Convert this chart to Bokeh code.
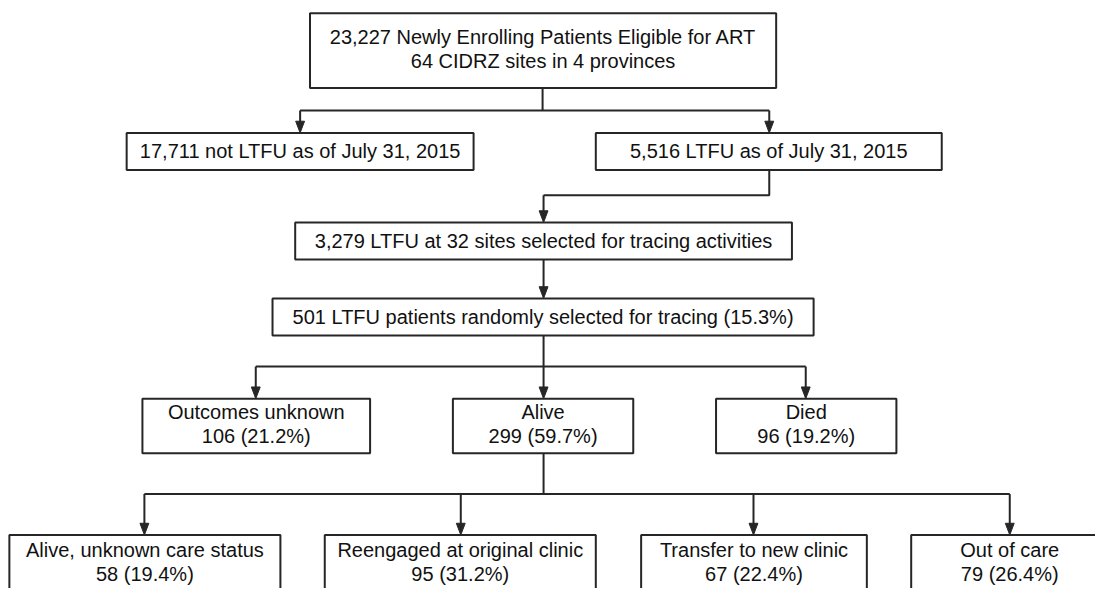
from bokeh.plotting import figure
from bokeh.models import Range1d, ColumnDataSource
from bokeh.core.properties import value
from bokeh.embed import file_html
from bokeh.resources import INLINE

# ---- data (from the flowchart) ----
counts = [23227, 17711, 5516, 3279, 501, 106, 299, 96, 58, 95, 67, 79]
pcts = [None, None, None, None, 15.3, 21.2, 59.7, 19.2, 19.4, 31.2, 22.4, 26.4]
titles = [
    "Newly Enrolling Patients Eligible for ART",
    "not LTFU as of July 31, 2015",
    "LTFU as of July 31, 2015",
    "LTFU at 32 sites selected for tracing activities",
    "LTFU patients randomly selected for tracing",
    "Outcomes unknown",
    "Alive",
    "Died",
    "Alive, unknown care status",
    "Reengaged at original clinic",
    "Transfer to new clinic",
    "Out of care",
]
subtitle_top = "64 CIDRZ sites in 4 provinces"

def fmt(n):
    return f"{n:,}"

node_lines = [
    [f"{fmt(counts[0])} {titles[0]}", subtitle_top],
    [f"{fmt(counts[1])} {titles[1]}"],
    [f"{fmt(counts[2])} {titles[2]}"],
    [f"{fmt(counts[3])} {titles[3]}"],
    [f"{counts[4]} {titles[4]} ({pcts[4]}%)"],
] + [[titles[i], f"{counts[i]} ({pcts[i]}%)"] for i in range(5, 12)]

# ---- layout (reference-pixel boxes: x0, x1, y0, y1) ----
boxes = [
    (314, 787, 13, 90),
    (128, 480, 136, 174),
    (604, 955, 136, 174),
    (299, 803, 228, 266),
    (276, 825, 306, 344),
    (144, 375, 409, 465),
    (459, 642, 409, 465),
    (726, 909, 409, 465),
    (9, 284, 549, 625),
    (329, 604, 549, 625),
    (650, 879, 549, 625),
    (924, 1124, 549, 625),
]
line_y = {0: [38, 62], 5: [423, 447], 6: [423, 447], 7: [423, 447],
          8: [564, 589], 9: [564, 589], 10: [564, 589], 11: [564, 589]}

# connectors (polylines) and arrow tips
segs = [
    ([550, 550], [90, 113]),
    ([304, 780], [113, 113]),
    ([780, 780, 551], [174, 200, 200]),
    ([551, 551], [344, 376]),
    ([259, 817], [376, 376]),
    ([551, 551], [465, 507]),
    ([146, 1024], [507, 507]),
]
arrows = [  # (x, y_start, y_tip)
    (304, 113, 136), (780, 113, 136),
    (551, 200, 228), (551, 266, 306),
    (259, 376, 409), (551, 376, 409), (817, 376, 409),
    (146, 507, 549), (467, 507, 549), (764, 507, 549), (1024, 507, 549),
]

LINE = "#262626"
TEXT = "#111111"
FONT = "Liberation Sans"

p = figure(width=1095, height=588, output_backend="svg", toolbar_location=None,
           x_range=Range1d(0, 1111), y_range=Range1d(604, 0),
           min_border=0)
p.axis.visible = False
p.grid.visible = False
p.outline_line_color = None
p.background_fill_color = "white"
p.border_fill_color = "white"

bsrc = ColumnDataSource(dict(
    left=[b[0] for b in boxes], right=[b[1] for b in boxes],
    top=[b[2] for b in boxes], bottom=[b[3] for b in boxes]))
p.quad(left="left", right="right", top="top", bottom="bottom", source=bsrc,
       fill_color="white", line_color=LINE, line_width=2)

xs = [s[0] for s in segs]
ys = [s[1] for s in segs]
for (x, y0, y1) in arrows:
    xs.append([x, x])
    ys.append([y0, y1 - 8])
p.multi_line(xs=xs, ys=ys, line_color=LINE, line_width=2)

hx, hy = [], []
for (x, y0, y1) in arrows:
    hx.append([x - 4.5, x + 4.5, x])
    hy.append([y1 - 12, y1 - 12, y1])
p.patches(xs=hx, ys=hy, fill_color=LINE, line_color=LINE, line_width=1)

tx, ty, tt = [], [], []
for i, lines in enumerate(node_lines):
    b = boxes[i]
    cx = (b[0] + b[1]) / 2
    if i in line_y:
        yl = line_y[i]
    else:
        yl = [(b[2] + b[3]) / 2]
    for t, yv in zip(lines, yl):
        tx.append(cx)
        ty.append(yv)
        tt.append(t)
p.text(x=tx, y=ty, text=tt, text_align="center", text_baseline="middle",
       text_font=value(FONT), text_font_size="20px", text_color=TEXT)

open("out.html", "w").write(file_html(p, INLINE))
